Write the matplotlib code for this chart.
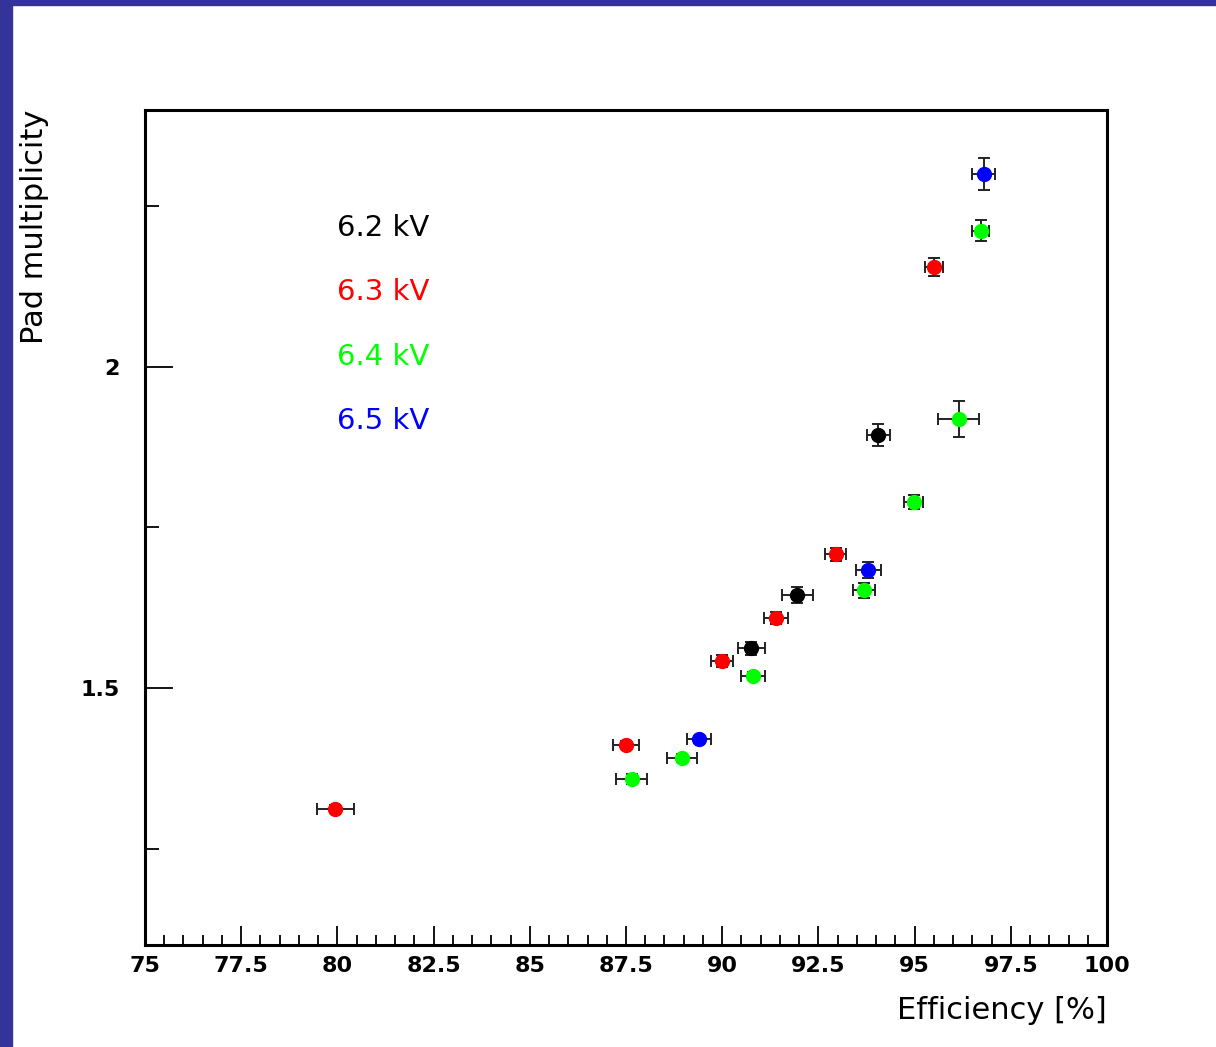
import matplotlib
matplotlib.use("Agg")
import matplotlib.pyplot as plt
from matplotlib.patches import Rectangle
from matplotlib.ticker import MultipleLocator

# data: efficiency [%], pad multiplicity, errors
eff_62 = [94.05, 91.95, 90.75]
mult_62 = [1.894, 1.645, 1.562]
xerr_62 = [0.30, 0.40, 0.35]
yerr_62 = [0.017, 0.013, 0.010]

eff_63 = [79.95, 87.5, 90.0, 91.4, 92.95, 95.5]
mult_63 = [1.312, 1.411, 1.542, 1.609, 1.708, 2.156]
xerr_63 = [0.47, 0.35, 0.29, 0.31, 0.27, 0.23]
yerr_63 = [0.006, 0.006, 0.009, 0.010, 0.010, 0.014]

eff_64 = [87.65, 88.95, 90.8, 93.68, 94.98, 96.15, 96.72]
mult_64 = [1.359, 1.391, 1.519, 1.652, 1.790, 1.919, 2.212]
xerr_64 = [0.40, 0.39, 0.30, 0.28, 0.25, 0.53, 0.22]
yerr_64 = [0.008, 0.006, 0.006, 0.011, 0.011, 0.028, 0.016]

eff_65 = [89.4, 93.8, 96.8]
mult_65 = [1.420, 1.684, 2.301]
xerr_65 = [0.31, 0.33, 0.30]
yerr_65 = [0.006, 0.0125, 0.025]

labels = ["6.2 kV", "6.3 kV", "6.4 kV", "6.5 kV"]
colors = ["#000000", "#ff0000", "#00ff00", "#0000ff"]
label_y = [2.217, 2.116, 2.016, 1.916]

series = [
    (eff_62, mult_62, xerr_62, yerr_62),
    (eff_63, mult_63, xerr_63, yerr_63),
    (eff_64, mult_64, xerr_64, yerr_64),
    (eff_65, mult_65, xerr_65, yerr_65),
]

plt.rcParams['font.family'] = ['DejaVu Sans']

fig = plt.figure(figsize=(12.16, 10.47), dpi=100)
fig.patch.set_facecolor("white")
# dark blue frame on the left and top
fig.patches.append(Rectangle((0, 0), 12 / 1216, 1, transform=fig.transFigure,
                             color="#333399", zorder=0))
fig.patches.append(Rectangle((0, 1 - 5 / 1047), 1, 5 / 1047, transform=fig.transFigure,
                             color="#333399", zorder=0))

ax = fig.add_axes([145 / 1216, 1 - 945 / 1047, 962 / 1216, 835 / 1047])

for (x, y, xe, ye), c in zip(series, colors):
    ax.errorbar(x, y, xerr=xe, yerr=ye, fmt='o', color=c, ecolor='#222222',
                markersize=10, elinewidth=1.4, capsize=4, capthick=1.4, zorder=3)

for lab, c, ly in zip(labels, colors, label_y):
    ax.text(80.0, ly, lab, color=c, fontsize=21, ha='left', va='center')

ax.set_xlim(75, 100)
ax.set_ylim(1.1, 2.4)
ax.xaxis.set_minor_locator(MultipleLocator(0.5))
ax.yaxis.set_minor_locator(MultipleLocator(0.25))
ax.set_xticks([75, 77.5, 80, 82.5, 85, 87.5, 90, 92.5, 95, 97.5, 100])
ax.set_xticklabels(["75", "77.5", "80", "82.5", "85", "87.5", "90", "92.5", "95", "97.5", "100"])
ax.set_yticks([1.5, 2])
ax.set_yticklabels(["1.5", "2"])

ax.tick_params(axis='both', which='both', direction='in', top=False, right=False,
               width=1.3, labelsize=16)
ax.tick_params(axis='x', which='major', length=14, pad=8)
ax.tick_params(axis='x', which='minor', length=7)
ax.tick_params(axis='y', which='major', length=20, pad=18)
ax.tick_params(axis='y', which='minor', length=10)
for lab in ax.get_xticklabels() + ax.get_yticklabels():
    lab.set_fontweight('bold')

for s in ax.spines.values():
    s.set_linewidth(2.2)

ax.set_xlabel("Efficiency [%]", fontsize=22, loc='right', labelpad=14)
ax.set_ylabel("Pad multiplicity", fontsize=22, loc='top')
ax.yaxis.set_label_coords(-96 / 962, 1.0)

fig.savefig("out.png", dpi=100)
